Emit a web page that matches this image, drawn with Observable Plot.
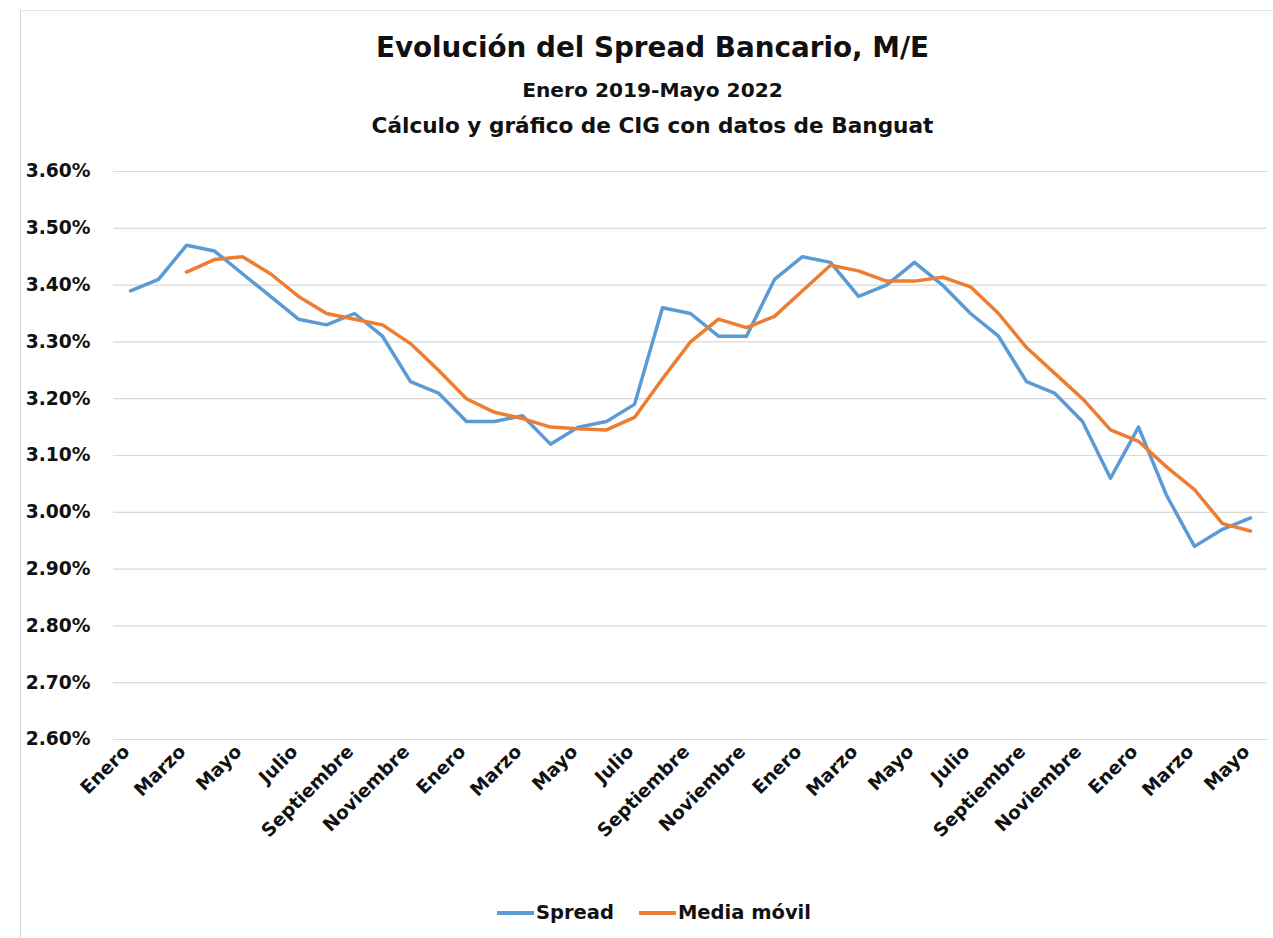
<!DOCTYPE html>
<html>
<head>
<meta charset="utf-8">
<script src="https://cdn.jsdelivr.net/npm/d3@7"></script>
<script src="https://cdn.jsdelivr.net/npm/@observablehq/plot@0.6"></script>
<style>
  html, body { margin: 0; padding: 0; background: #fff; }
  body { width: 1273px; height: 938px; position: relative; overflow: hidden;
         font-family: "DejaVu Sans", sans-serif; font-weight: bold; color: #111; }
  .frame { position: absolute; left: 20px; top: 10px; right: 0; bottom: 0;
           border-left: 1.5px solid #d6d6d6; border-top: 1.5px solid #e4e4e4; }
  .t { position: absolute; left: 0; width: 1305px; text-align: center; line-height: 1; white-space: nowrap; }
  #chart { position: absolute; left: 0; top: 150px; }
  .legend { position: absolute; top: 900px; left: 497px; display: flex; align-items: center; font-size: 19.5px; line-height: 26px; }
  .legend .sw { display: inline-block; width: 37px; height: 3.5px; margin-right: 2px; }
  .legend .item { display: flex; align-items: center; margin-right: 25px; }
</style>
</head>
<body>
<div class="frame"></div>
<div class="t" style="top:34px;font-size:27.8px;">Evolución del Spread Bancario, M/E</div>
<div class="t" style="top:80px;font-size:20.2px;">Enero 2019-Mayo 2022</div>
<div class="t" style="top:115px;font-size:21.6px;">Cálculo y gráfico de CIG con datos de Banguat</div>
<div id="chart"></div>
<div class="legend">
  <span class="item"><span class="sw" style="background:#5B9BD5"></span>Spread</span>
  <span class="item"><span class="sw" style="background:#ED7D31"></span>Media móvil</span>
</div>
<script>
// Periodos mensuales, enero 2019 - mayo 2022
const periodo = [
  "2019-01","2019-02","2019-03","2019-04","2019-05","2019-06","2019-07","2019-08","2019-09","2019-10","2019-11","2019-12",
  "2020-01","2020-02","2020-03","2020-04","2020-05","2020-06","2020-07","2020-08","2020-09","2020-10","2020-11","2020-12",
  "2021-01","2021-02","2021-03","2021-04","2021-05","2021-06","2021-07","2021-08","2021-09","2021-10","2021-11","2021-12",
  "2022-01","2022-02","2022-03","2022-04","2022-05"
];
const mes = [
  "Enero","Febrero","Marzo","Abril","Mayo","Junio","Julio","Agosto","Septiembre","Octubre","Noviembre","Diciembre",
  "Enero","Febrero","Marzo","Abril","Mayo","Junio","Julio","Agosto","Septiembre","Octubre","Noviembre","Diciembre",
  "Enero","Febrero","Marzo","Abril","Mayo","Junio","Julio","Agosto","Septiembre","Octubre","Noviembre","Diciembre",
  "Enero","Febrero","Marzo","Abril","Mayo"
];
// Spread bancario M/E (%)
const spread = [
  3.39, 3.41, 3.47, 3.46, 3.42, 3.38, 3.34, 3.33, 3.35, 3.31, 3.23, 3.21,
  3.16, 3.16, 3.17, 3.12, 3.15, 3.16, 3.19, 3.36, 3.35, 3.31, 3.31, 3.41,
  3.45, 3.44, 3.38, 3.40, 3.44, 3.40, 3.35, 3.31, 3.23, 3.21, 3.16, 3.06,
  3.15, 3.03, 2.94, 2.97, 2.99
];
// Media móvil (%)
const mediaMovil = [
  null, null, 3.423, 3.445, 3.450, 3.420, 3.380, 3.350, 3.340, 3.330, 3.297, 3.250,
  3.200, 3.176, 3.165, 3.150, 3.147, 3.145, 3.167, 3.235, 3.300, 3.340, 3.325, 3.345,
  3.390, 3.435, 3.425, 3.407, 3.407, 3.414, 3.397, 3.350, 3.290, 3.245, 3.200, 3.145,
  3.125, 3.080, 3.040, 2.980, 2.967
];
// Marcas del eje
const yTicks = [2.6, 2.7, 2.8, 2.9, 3.0, 3.1, 3.2, 3.3, 3.4, 3.5, 3.6];
const xTicks = periodo.filter((p, i) => i % 2 === 0);

const dataSpread = periodo.map((p, i) => ({periodo: p, valor: spread[i]}));
const dataMedia = periodo.map((p, i) => ({periodo: p, valor: mediaMovil[i]})).filter(d => d.valor != null);

const chart = Plot.plot({
  width: 1273,
  height: 720,
  marginLeft: 113,
  marginRight: 6,
  marginTop: 21,
  marginBottom: 131,
  style: {fontFamily: "DejaVu Sans, sans-serif", fontWeight: "bold", color: "#111", background: "transparent"},
  x: {type: "point", domain: periodo, padding: 0.5},
  y: {domain: [2.6, 3.6]},
  marks: [
    Plot.gridY(yTicks, {stroke: "#d9d9d9", strokeOpacity: 1, strokeWidth: 1.2}),
    Plot.axisY(yTicks, {tickSize: 0, tickPadding: 23, fontSize: 18.7, tickFormat: d => d.toFixed(2) + "%", label: null}),
    Plot.axisX(xTicks, {tickSize: 0, tickPadding: 9, tickRotate: -45, fontSize: 18.5, dx: -4,
      tickFormat: p => mes[periodo.indexOf(p)], label: null}),
    Plot.line(dataSpread, {x: "periodo", y: "valor", stroke: "#5B9BD5", strokeWidth: 3.5, strokeLinejoin: "round", strokeLinecap: "round"}),
    Plot.line(dataMedia, {x: "periodo", y: "valor", stroke: "#ED7D31", strokeWidth: 3.5, strokeLinejoin: "round", strokeLinecap: "round"})
  ]
});
document.getElementById("chart").appendChild(chart);
</script>
</body>
</html>
